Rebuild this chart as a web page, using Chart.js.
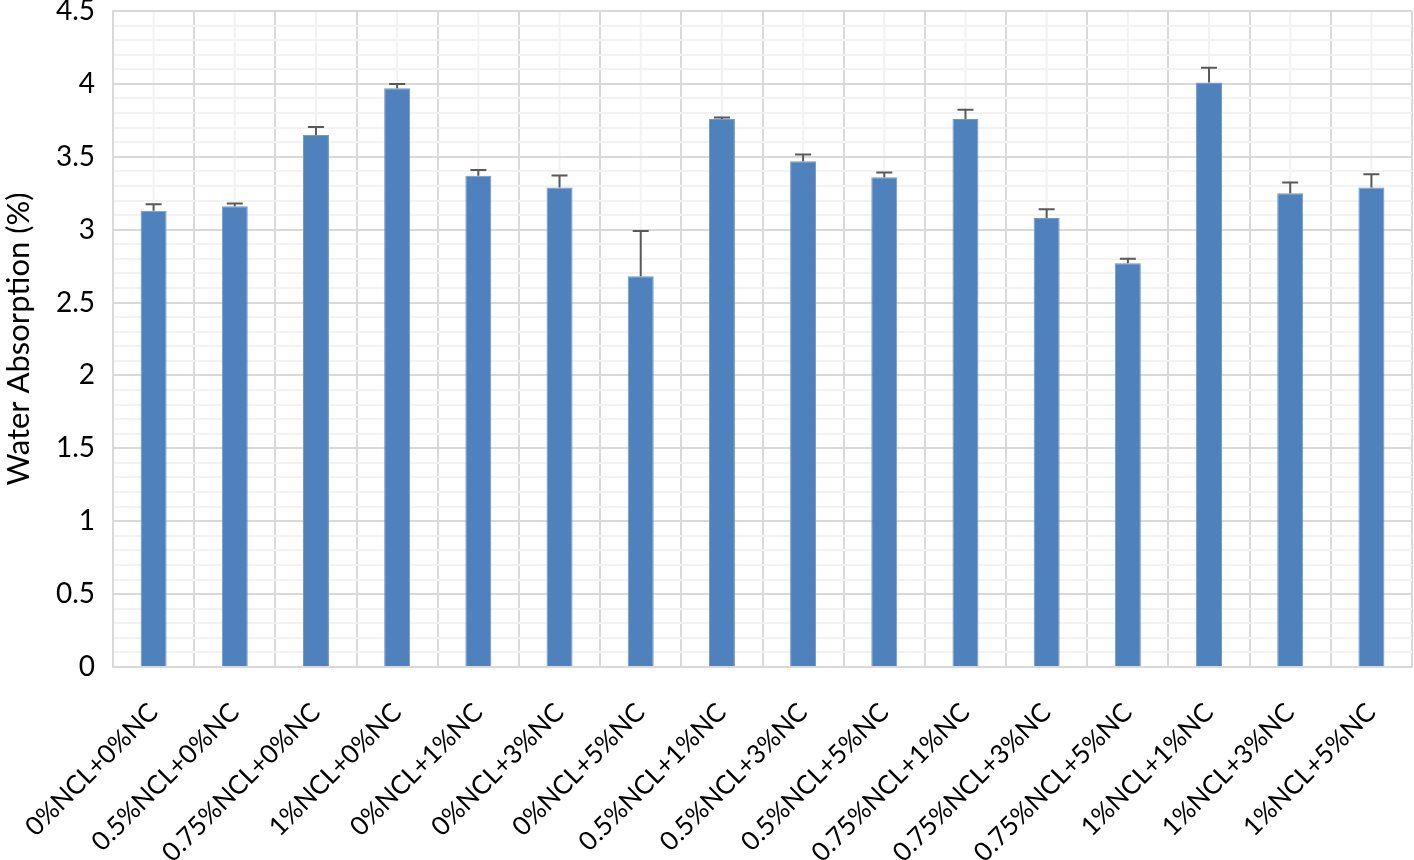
<!DOCTYPE html>
<html>
<head>
<meta charset="utf-8">
<script src="https://cdn.jsdelivr.net/npm/chart.js@4/dist/chart.umd.min.js"></script>
<style>
  html, body { margin: 0; padding: 0; background: #fff; }
  #wrap { width: 1414px; height: 860px; }
</style>
</head>
<body>
<div id="wrap"><canvas id="chart" width="1414" height="860"></canvas></div>
<script>
// Data
const categories = [
    '0%NCL+0%NC', '0.5%NCL+0%NC', '0.75%NCL+0%NC', '1%NCL+0%NC',
    '0%NCL+1%NC', '0%NCL+3%NC', '0%NCL+5%NC', '0.5%NCL+1%NC',
    '0.5%NCL+3%NC', '0.5%NCL+5%NC', '0.75%NCL+1%NC', '0.75%NCL+3%NC',
    '0.75%NCL+5%NC', '1%NCL+1%NC', '1%NCL+3%NC', '1%NCL+5%NC'
];
const waterAbsorption = [3.13, 3.16, 3.65, 3.97, 3.37, 3.29, 2.68, 3.76, 3.47, 3.36, 3.76, 3.08, 2.77, 4.01, 3.25, 3.29];
const errorPlus = [0.045, 0.02, 0.055, 0.03, 0.04, 0.082, 0.31, 0.01, 0.045, 0.032, 0.062, 0.06, 0.03, 0.10, 0.073, 0.09];

const yTitle = 'Water Absorption (%)';
const yMin = 0;
const yMax = 4.5;

const FONT = 'Lato, "Open Sans", sans-serif';

function isMajor(v) {
    return Math.abs(v * 2 - Math.round(v * 2)) < 1e-6;
}

// light gridlines through the middle of each category, under the main grid
const minorXGrid = {
    id: 'minorXGrid',
    beforeDraw(chart) {
        const { ctx, chartArea, scales } = chart;
        ctx.save();
        ctx.strokeStyle = '#F2F2F2';
        ctx.lineWidth = 2;
        categories.forEach((c, i) => {
            const x = scales.x.getPixelForValue(i);
            ctx.beginPath();
            ctx.moveTo(x, chartArea.top);
            ctx.lineTo(x, chartArea.bottom);
            ctx.stroke();
        });
        ctx.restore();
    }
};

// plus-only error bars
const errorBars = {
    id: 'errorBars',
    afterDatasetsDraw(chart) {
        const { ctx, scales } = chart;
        const meta = chart.getDatasetMeta(0);
        ctx.save();
        ctx.strokeStyle = '#595959';
        ctx.lineWidth = 2;
        meta.data.forEach((bar, i) => {
            const top = scales.y.getPixelForValue(waterAbsorption[i] + errorPlus[i]);
            ctx.beginPath();
            ctx.moveTo(bar.x, bar.y);
            ctx.lineTo(bar.x, top);
            ctx.moveTo(bar.x - 8, top);
            ctx.lineTo(bar.x + 8, top);
            ctx.stroke();
        });
        ctx.restore();
    }
};

new Chart(document.getElementById('chart'), {
    type: 'bar',
    data: {
        labels: categories,
        datasets: [{
            label: yTitle,
            data: waterAbsorption,
            backgroundColor: '#4F81BD',
            borderColor: '#6F98CC',
            borderWidth: 1,
            barPercentage: 0.32,
            categoryPercentage: 1.0
        }]
    },
    options: {
        responsive: false,
        animation: false,
        layout: { padding: { top: 11, right: 2, left: 0, bottom: 0 } },
        plugins: {
            legend: { display: false },
            tooltip: { enabled: false }
        },
        scales: {
            x: {
                grid: { color: '#D9D9D9', lineWidth: 2, drawTicks: false, offset: true },
                border: { color: '#D9D9D9', width: 2 },
                ticks: {
                    color: '#000',
                    font: { family: FONT, size: 26 },
                    minRotation: 45,
                    maxRotation: 45,
                    autoSkip: false,
                    padding: 30
                },
                afterFit(scale) {
                    scale.height = 193;
                    scale.paddingLeft = 0;
                    scale.paddingRight = 0;
                }
            },
            y: {
                min: yMin,
                max: yMax,
                grid: {
                    drawTicks: false,
                    lineWidth: 2,
                    color: ctx => isMajor(ctx.tick.value) ? '#D9D9D9' : '#F2F2F2'
                },
                border: { color: '#D9D9D9', width: 2 },
                ticks: {
                    stepSize: 0.1,
                    autoSkip: false,
                    color: '#000',
                    font: { family: FONT, size: 28 },
                    padding: 18,
                    callback: v => isMajor(v) ? String(Math.round(v * 10) / 10) : ''
                },
                title: {
                    display: true,
                    text: yTitle,
                    color: '#000',
                    font: { family: FONT, size: 31 },
                    padding: { top: 0, bottom: 0 }
                },
                afterFit(scale) {
                    scale.width = 113;
                    scale.paddingTop = 0;
                    scale.paddingBottom = 0;
                }
            }
        }
    },
    plugins: [minorXGrid, errorBars]
});
</script>
</body>
</html>
